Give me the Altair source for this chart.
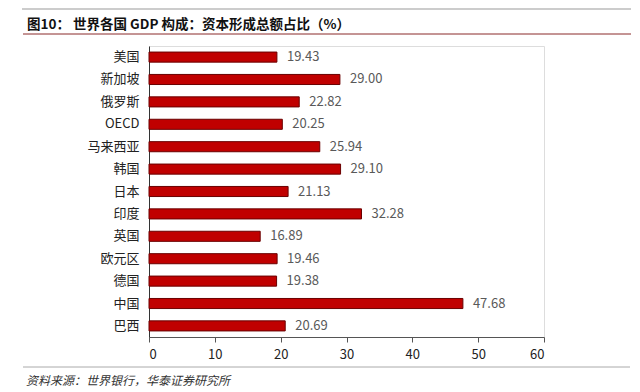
import altair as alt
import pandas as pd

categories = ["美国", "新加坡", "俄罗斯", "OECD", "马来西亚", "韩国", "日本", "印度", "英国", "欧元区", "德国", "中国", "巴西"]
values = [19.43, 29.00, 22.82, 20.25, 25.94, 29.10, 21.13, 32.28, 16.89, 19.46, 19.38, 47.68, 20.69]
x_ticks = [0, 10, 20, 30, 40, 50, 60]

title_text = "图10：  世界各国 GDP 构成：资本形成总额占比（%）"
source_text = "资料来源：世界银行，华泰证券研究所"

FONT = "Noto Sans CJK SC"
df = pd.DataFrame({"cat": categories, "val": values})
one = pd.DataFrame({"a": [0]})

base = alt.Chart(df)
y_enc = alt.Y("cat:N", sort=categories, title=None,
              scale=alt.Scale(paddingInner=0.55, paddingOuter=0.27),
              axis=alt.Axis(labelFontSize=13, labelColor="#222", labelPadding=10,
                            ticks=False, domainColor="#333", labelFont=FONT))
x_enc = alt.X("val:Q", title=None, scale=alt.Scale(domain=[0, 60], nice=False),
              axis=alt.Axis(values=x_ticks, grid=False, labelFontSize=13, labelColor="#222",
                            tickSize=5, tickColor="#555", domainColor="#555",
                            labelPadding=6, labelFont=FONT))

bars = base.mark_bar(color="#C00000", stroke="#6a0000", strokeWidth=1).encode(y=y_enc, x=x_enc)
labels = base.mark_text(align="left", baseline="middle", dx=10, fontSize=13,
                        color="#595959", font=FONT).encode(
    y=alt.Y("cat:N", sort=categories), x="val:Q", text=alt.Text("val:Q", format=".2f"))

deco = alt.Chart(one)
top_line = deco.mark_rule(color="#999", strokeWidth=1).encode(
    x=alt.value(-127), x2=alt.value(482), y=alt.value(-37))
title = deco.mark_text(align="left", baseline="middle", fontSize=13.5, fontWeight="bold",
                       color="#111", font=FONT).encode(
    x=alt.value(-122), y=alt.value(-21), text=alt.value(title_text))
red_line = deco.mark_rule(color="#8a2a2a", strokeWidth=1).encode(
    x=alt.value(-126), x2=alt.value(482), y=alt.value(-12))
bottom_line = deco.mark_rule(color="#aaa", strokeWidth=1).encode(
    x=alt.value(-126), x2=alt.value(481), y=alt.value(321))
source = deco.mark_text(align="left", baseline="middle", fontSize=12, fontStyle="italic",
                        color="#333", font=FONT).encode(
    x=alt.value(-123), y=alt.value(335), text=alt.value(source_text))

chart = alt.layer(bars, labels, top_line, title, red_line, bottom_line, source).properties(
    width=395, height=291,
    autosize=alt.AutoSizeParams(type="none"),
    padding={"left": 141, "top": 38, "right": 88, "bottom": 50},
).configure_view(stroke=None).configure(font=FONT)

chart.save("out.html", embed_options={"renderer": "svg", "actions": False})
